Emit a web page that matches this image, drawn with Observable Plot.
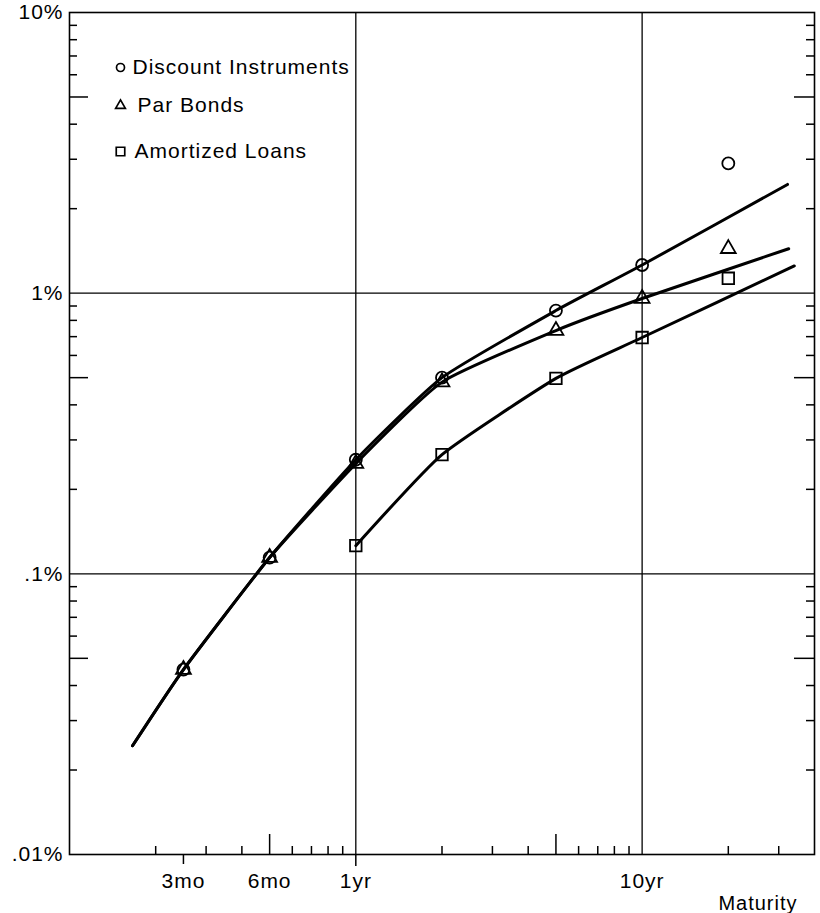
<!DOCTYPE html>
<html><head><meta charset="utf-8">
<script src="https://cdn.jsdelivr.net/npm/d3@7"></script>
<script src="https://cdn.jsdelivr.net/npm/@observablehq/plot@0.6"></script>
<style>body{margin:0;background:#fff;}</style>
</head><body><div id="chart"></div>
<script>
// ---- data (maturity in years, value in percent) ----
const discMaturity = [0.25, 0.5, 1, 2, 5, 10, 20];
const discValue    = [0.0456, 0.1143, 0.255, 0.50, 0.867, 1.26, 2.90];
const parMaturity  = [0.25, 0.5, 1, 2, 5, 10, 20];
const parValue     = [0.0456, 0.1143, 0.247, 0.482, 0.736, 0.957, 1.44];
const amortMaturity = [1, 2, 5, 10, 20];
const amortValue    = [0.126, 0.266, 0.497, 0.695, 1.13];

const discLineMaturity = [0.166, 0.25, 0.5, 1, 2, 5, 10, 32.2];
const discLineValue    = [0.0244, 0.0456, 0.1143, 0.255, 0.50, 0.867, 1.26, 2.44];
const parLineMaturity  = [0.166, 0.25, 0.5, 1, 2, 5, 10, 32.5];
const parLineValue     = [0.0244, 0.0456, 0.1143, 0.247, 0.482, 0.736, 0.957, 1.44];
const amortLineMaturity = [1, 2, 5, 10, 34];
const amortLineValue    = [0.126, 0.266, 0.497, 0.695, 1.25];

const seriesLabels = ["Discount Instruments", "Par Bonds", "Amortized Loans"];
const seriesSymbols = ["circle", "triangle", "square"];

const xTickValues = [0.25, 0.5, 1, 10];
const xTickLabels = ["3mo", "6mo", "1yr", "10yr"];
const yTickValues = [0.01, 0.1, 1, 10];
const yTickLabels = [".01%", ".1%", "1%", "10%"];
const xMinorTicks = [0.2, 0.3, 0.4, 0.6, 0.7, 0.8, 0.9, 2, 3, 4, 6, 7, 8, 9, 20, 30];
const xMidTicks = [0.5, 5];
const yMinorTicks = [0.02,0.03,0.04,0.06,0.07,0.08,0.09, 0.2,0.3,0.4,0.6,0.7,0.8,0.9, 2,3,4,6,7,8,9];
const yMidTicks = [0.05, 0.5, 5];

// ---- build tables ----
const zip = (xs, ys) => xs.map((x, i) => ({x, y: ys[i]}));
const discPts = zip(discMaturity, discValue);
const parPts = zip(parMaturity, parValue);
const amortPts = zip(amortMaturity, amortValue);
const discLine = zip(discLineMaturity, discLineValue);
const parLine = zip(parLineMaturity, parLineValue);
const amortLine = zip(amortLineMaturity, amortLineValue);
const xTicks = xTickValues.map((v, i) => ({v, label: xTickLabels[i]}));
const yTicks = yTickValues.map((v, i) => ({v, label: yTickLabels[i]}));

const W = 820, H = 913, mL = 69, mR = 6, mT = 12, mB = 59;
const innerW = W - mL - mR, innerH = H - mT - mB;

const legendPos = [
  {dy: 55, dxText: 63, r: 4},
  {dy: 93, dxText: 68, r: 3.6},
  {dy: 139, dxText: 65, r: 4.8}
];
const legendMarks = seriesLabels.flatMap((label, i) => [
  Plot.dot([label], {frameAnchor: "top-left", dx: 51, dy: legendPos[i].dy, symbol: seriesSymbols[i],
    r: legendPos[i].r, stroke: "black", strokeWidth: 1.7, fill: "none"}),
  Plot.text([label], {frameAnchor: "top-left", dx: legendPos[i].dxText, dy: legendPos[i].dy,
    text: d => d, textAnchor: "start", lineAnchor: "middle", fontSize: 21, fill: "black"})
]);

const lineOpts = {x: "x", y: "y", stroke: "black", strokeWidth: 3, curve: "cardinal", tension: 0.5};
const dotOpts = {x: "x", y: "y", stroke: "black", strokeWidth: 1.8, fill: "none"};

const chart = Plot.plot({
  width: W, height: H,
  marginLeft: mL, marginRight: mR, marginTop: mT, marginBottom: mB,
  style: {fontFamily: "'Liberation Sans', Arial, sans-serif", fontSize: "20px", letterSpacing: "1px", background: "white", color: "black"},
  x: {type: "log", domain: [0.1, 40], axis: null},
  y: {type: "log", domain: [0.01, 10], axis: null},
  marks: [
    Plot.ruleX([1, 10], {strokeWidth: 1.3}),
    Plot.ruleY([0.1, 1], {strokeWidth: 1.3}),
    Plot.tickX(xMinorTicks, {x: d => d, insetTop: innerH - 8, strokeWidth: 1.5}),
    Plot.tickX(xMidTicks, {x: d => d, insetTop: innerH - 20, strokeWidth: 1.5}),
    Plot.tickY(yMinorTicks, {y: d => d, insetRight: innerW - 8, strokeWidth: 1.5}),
    Plot.tickY(yMidTicks, {y: d => d, insetRight: innerW - 19, strokeWidth: 1.5}),
    Plot.tickY(yMinorTicks, {y: d => d, insetLeft: innerW - 8, strokeWidth: 1.5}),
    Plot.tickY(yMidTicks, {y: d => d, insetLeft: innerW - 20, strokeWidth: 1.5}),
    Plot.tickX([0.25], {x: d => d, insetTop: innerH, insetBottom: -10, strokeWidth: 1.5}),
    Plot.tickX([1], {x: d => d, insetTop: innerH, insetBottom: -12, strokeWidth: 1.5}),
    Plot.text(xTicks, {x: "v", frameAnchor: "bottom", dy: 27, text: "label", lineAnchor: "middle", fontSize: 21, fill: "black"}),
    Plot.text(yTicks, {y: "v", frameAnchor: "left", dx: -6, text: "label", textAnchor: "end", lineAnchor: "middle", fontSize: 21, fill: "black"}),
    Plot.frame({strokeWidth: 1.6}),
    Plot.line(discLine, lineOpts),
    Plot.line(parLine, lineOpts),
    Plot.line(amortLine, lineOpts),
    Plot.dot(discPts, {...dotOpts, symbol: "circle", r: 6}),
    Plot.dot(parPts, {...dotOpts, symbol: "triangle", r: 5.5}),
    Plot.dot(amortPts, {...dotOpts, symbol: "square", r: 6.5}),
    ...legendMarks,
    Plot.text(["Maturity"], {frameAnchor: "bottom-right", dx: -17, dy: 49, text: d => d,
      textAnchor: "end", lineAnchor: "middle", fontSize: 20, letterSpacing: "1.5px", fill: "black"})
  ]
});
document.getElementById("chart").appendChild(chart);
</script>
</body></html>
